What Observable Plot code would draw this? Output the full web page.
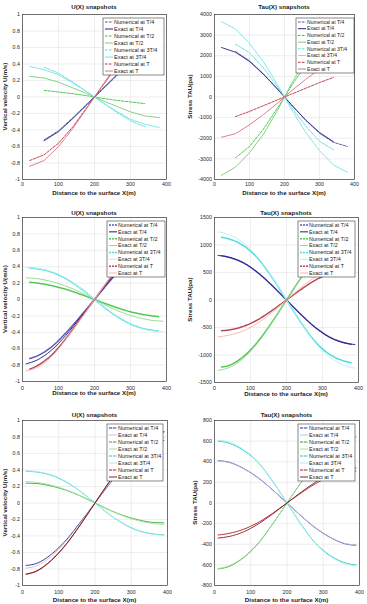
<!DOCTYPE html>
<html>
<head>
<meta charset="utf-8">
<script src="https://cdn.jsdelivr.net/npm/d3@7"></script>
<script src="https://cdn.jsdelivr.net/npm/@observablehq/plot@0.6"></script>
<style>
  body { margin: 0; background: #fff; }
  #fig { position: relative; width: 367px; height: 604px; overflow: hidden; font-family: "Liberation Sans", Arial, sans-serif; }
  #fig svg { position: absolute; overflow: visible; }
</style>
</head>
<body>
<div id="fig"></div>
<script>
// ---- shared axes ----
const xTicks = [0, 100, 200, 300, 400];
const uTicks = [-1, -0.8, -0.6, -0.4, -0.2, 0, 0.2, 0.4, 0.6, 0.8, 1];
const tauTicks1 = [-4000, -3000, -2000, -1000, 0, 1000, 2000, 3000, 4000];
const tauTicks2 = [-1500, -1000, -500, 0, 500, 1000, 1500];
const tauTicks3 = [-800, -600, -400, -200, 0, 200, 400, 600, 800];
const seriesNames = ["Numerical at T/4", "Exact at T/4", "Numerical at T/2", "Exact at T/2",
                     "Numerical at 3T/4", "Exact at 3T/4", "Numerical at T", "Exact at T"];

// ---- sampling positions (m) ----
const xCoarse = [20, 60, 100, 140, 180, 220, 260, 300, 340, 380];
const xInner = [60, 100, 140, 180, 220, 260, 300, 340];
const xInnerRight = [60, 100, 140, 180, 220, 260, 300, 340, 380];
const xLeftInner = [20, 60, 100, 140, 180, 220, 260, 300, 340];
const xFine = [10, 40, 80, 120, 160, 200, 240, 280, 320, 360, 390];
const xFineNum = [20, 40, 80, 120, 160, 200, 240, 280, 320, 360, 380];

// ---- run 1: velocity U (m/s) ----
const u1NumT4 = [-0.52, -0.41, -0.25, -0.08, 0.08, 0.25, 0.41, 0.52];
const u1ExT4 = [-0.53, -0.42, -0.26, -0.09, 0.09, 0.26, 0.42, 0.53];
const u1NumT2 = [0.08, 0.06, 0.04, 0.015, -0.015, -0.04, -0.06, -0.08];
const u1ExT2 = [0.25, 0.23, 0.18, 0.11, 0.04, -0.04, -0.11, -0.18, -0.23, -0.25];
const u1Num3T4 = [0.36, 0.29, 0.18, 0.06, -0.06, -0.18, -0.29, -0.36];
const u1Ex3T4 = [0.37, 0.33, 0.27, 0.17, 0.06, -0.06, -0.17, -0.27, -0.33, -0.37];
const u1NumT = [-0.77, -0.70, -0.56, -0.36, -0.12, 0.12, 0.36, 0.56, 0.70, 0.77];
const u1ExT = [-0.84, -0.77, -0.60, -0.38, -0.13, 0.13, 0.38, 0.60, 0.77, 0.84];

// ---- run 1: stress TAU (pa) ----
const t1NumT4 = [2200, 1760, 1120, 390, -390, -1120, -1760, -2200, -2400];
const t1ExT4 = [2400, 2170, 1720, 1100, 380, -380, -1100, -1720, -2170];
const t1NumT2 = [-2950, -2400, -1550, -540, 540, 1550, 2400, 2950];
const t1ExT2 = [-3800, -3400, -2700, -1800, -650, 650, 1800, 2700, 3400, 3800];
const t1Num3T4 = [2560, 2150, 1400, 500, -500, -1400, -2150, -2560];
const t1Ex3T4 = [3650, 3300, 2600, 1700, 600, -600, -1700, -2600, -3300, -3650];
const t1NumT = [-950, -700, -420, -140, 140, 420, 700, 950];
const t1ExT = [-1950, -1780, -1350, -850, -300, 300, 850, 1350, 1780, 1950];

// ---- run 2: velocity U (m/s) ----
const u2NumT4 = [-0.72, -0.69, -0.58, -0.41, -0.21, 0, 0.21, 0.41, 0.58, 0.69, 0.72];
const u2ExT4 = [-0.785, -0.74, -0.62, -0.44, -0.22, 0, 0.22, 0.44, 0.62, 0.74, 0.785];
const u2NumT2 = [0.21, 0.2, 0.17, 0.125, 0.065, 0, -0.065, -0.125, -0.17, -0.2, -0.21];
const u2ExT2 = [0.265, 0.255, 0.22, 0.165, 0.09, 0, -0.09, -0.165, -0.22, -0.255, -0.265];
const u2Num3T4 = [0.385, 0.375, 0.335, 0.255, 0.14, 0, -0.14, -0.255, -0.335, -0.375, -0.385];
const u2Ex3T4 = [0.39, 0.38, 0.34, 0.26, 0.14, 0, -0.14, -0.26, -0.34, -0.38, -0.39];
const u2NumT = [-0.85, -0.81, -0.68, -0.48, -0.24, 0, 0.24, 0.48, 0.68, 0.81, 0.85];
const u2ExT = [-0.87, -0.83, -0.70, -0.49, -0.25, 0, 0.25, 0.49, 0.70, 0.83, 0.87];

// ---- run 2: stress TAU (pa) ----
const t2NumT4 = [805, 775, 675, 498, 262, 0, -262, -498, -675, -775, -805];
const t2ExT4 = [810, 780, 680, 500, 265, 0, -265, -500, -680, -780, -810];
const t2NumT2 = [-1220, -1190, -1030, -760, -400, 0, 400, 760, 1030, 1190, 1220];
const t2ExT2 = [-1280, -1230, -1060, -780, -410, 0, 410, 780, 1060, 1230, 1280];
const t2Num3T4 = [1140, 1110, 990, 760, 410, 0, -410, -760, -990, -1110, -1140];
const t2Ex3T4 = [1240, 1190, 1040, 780, 420, 0, -420, -780, -1040, -1190, -1240];
const t2NumT = [-560, -545, -480, -360, -190, 0, 190, 360, 480, 545, 560];
const t2ExT = [-670, -640, -560, -420, -225, 0, 225, 420, 560, 640, 670];

// ---- run 3: velocity U (m/s) ----
const u3NumT4 = [-0.757, -0.73, -0.62, -0.45, -0.23, 0, 0.23, 0.45, 0.62, 0.73, 0.757];
const u3ExT4 = [-0.79, -0.76, -0.645, -0.465, -0.24, 0, 0.24, 0.465, 0.645, 0.76, 0.79];
const u3NumT2 = [0.24, 0.235, 0.205, 0.155, 0.085, 0, -0.085, -0.155, -0.205, -0.235, -0.24];
const u3ExT2 = [0.26, 0.25, 0.215, 0.16, 0.085, 0, -0.085, -0.16, -0.215, -0.25, -0.26];
const u3Num3T4 = [0.385, 0.375, 0.335, 0.255, 0.14, 0, -0.14, -0.255, -0.335, -0.375, -0.385];
const u3Ex3T4 = [0.39, 0.38, 0.34, 0.26, 0.14, 0, -0.14, -0.26, -0.34, -0.38, -0.39];
const u3NumT = [-0.86, -0.82, -0.69, -0.5, -0.26, 0, 0.26, 0.5, 0.69, 0.82, 0.86];
const u3ExT = [-0.865, -0.825, -0.695, -0.505, -0.262, 0, 0.262, 0.505, 0.695, 0.825, 0.865];

// ---- run 3: stress TAU (pa) ----
const t3NumT4 = [410, 395, 335, 245, 128, 0, -128, -245, -335, -395, -410];
const t3ExT4 = [408, 393, 333, 243, 127, 0, -127, -243, -333, -393, -408];
const t3NumT2 = [-640, -615, -530, -395, -205, 0, 205, 395, 530, 615, 640];
const t3ExT2 = [-635, -610, -525, -390, -203, 0, 203, 390, 525, 610, 635];
const t3Num3T4 = [600, 580, 510, 395, 212, 0, -212, -395, -510, -580, -600];
const t3Ex3T4 = [610, 590, 520, 400, 215, 0, -215, -400, -520, -590, -610];
const t3NumT = [-310, -295, -255, -190, -100, 0, 100, 190, 255, 295, 310];
const t3ExT = [-340, -325, -280, -205, -108, 0, 108, 205, 280, 325, 340];

// ---- line styles for each run ----
const dash = "2.6,1.3";
const dashTight = "3,0.8";
const style1 = [
  {stroke: "#5050b4", dash, w: 0.9}, {stroke: "#2a2a78", dash: null, w: 0.9},
  {stroke: "#38c438", dash, w: 0.9}, {stroke: "#78cc78", dash: null, w: 0.9},
  {stroke: "#5cdcdc", dash, w: 0.9}, {stroke: "#74e4e4", dash: null, w: 0.9},
  {stroke: "#c03040", dash, w: 0.9}, {stroke: "#d47484", dash: null, w: 0.9}
];
const style2 = [
  {stroke: "#6058b8", dash: "2,1", w: 1.5}, {stroke: "#1c1c80", dash: null, w: 0.9},
  {stroke: "#50c850", dash: "2,1", w: 1.5}, {stroke: "#8ed88e", dash: null, w: 0.9},
  {stroke: "#48dcdc", dash: "2,1", w: 1.5}, {stroke: "#b8f2f2", dash: null, w: 0.9},
  {stroke: "#b84858", dash: "2,1", w: 1.5}, {stroke: "#f2b4a8", dash: null, w: 0.9}
];
const style3 = [
  {stroke: "#26268c", dash: dashTight, w: 0.9}, {stroke: "#c4c4dc", dash: null, w: 0.9},
  {stroke: "#22aa22", dash: dashTight, w: 0.9}, {stroke: "#a8dca8", dash: null, w: 0.9},
  {stroke: "#22c8c8", dash: dashTight, w: 0.9}, {stroke: "#a8ecec", dash: null, w: 0.9},
  {stroke: "#b01818", dash: dashTight, w: 0.9}, {stroke: "#7a2434", dash: null, w: 0.9}
];

const fmt = d => String(d);

// cell = svg box on the page, frame = plotting area on the page (l, t, r, b)
const panels = [
  {cell: [0, 0, 183, 200], frame: [22, 14, 166, 179], title: "U(X) snapshots", ylabel: "Vertical velocity U(m/s)",
   y: [-1, 1], ticks: uTicks, curve: "linear", styles: style1, tickPad: 2.6, titleY: 7.3, xlabY: 192.7, ylabX: 5,
   legend: [103, 18, 61, 57, 5.5],
   series: [[xInner, u1NumT4], [xInner, u1ExT4], [xInner, u1NumT2], [xCoarse, u1ExT2],
            [xInner, u1Num3T4], [xCoarse, u1Ex3T4], [xCoarse, u1NumT], [xCoarse, u1ExT]]},
  {cell: [183, 0, 184, 200], frame: [214, 14, 354, 179], title: "Tau(X) snapshots", ylabel: "Stress TAU(pa)",
   y: [-4000, 4000], ticks: tauTicks1, curve: "linear", styles: style1, tickPad: 2.6, titleY: 7.3, xlabY: 192.7, ylabX: 189.7,
   legend: [296, 18, 58, 55, 5.1],
   series: [[xInnerRight, t1NumT4], [xLeftInner, t1ExT4], [xInner, t1NumT2], [xCoarse, t1ExT2],
            [xInner, t1Num3T4], [xCoarse, t1Ex3T4], [xInner, t1NumT], [xCoarse, t1ExT]]},
  {cell: [0, 200, 183, 200], frame: [22, 217, 166, 381], title: "U(X) snapshots", ylabel: "Vertical velocity U(m/s)",
   y: [-1, 1], ticks: uTicks, curve: "monotone-x", styles: style2, tickPad: 4.4, titleY: 212.7, xlabY: 393.3, ylabX: 5,
   legend: [107, 221, 58, 56, 5.4],
   series: [[xFineNum, u2NumT4], [xFine, u2ExT4], [xFineNum, u2NumT2], [xFine, u2ExT2],
            [xFineNum, u2Num3T4], [xFine, u2Ex3T4], [xFineNum, u2NumT], [xFine, u2ExT]]},
  {cell: [183, 200, 184, 200], frame: [214, 217, 358, 382], title: "Tau(X) snapshots", ylabel: "Stress TAU(pa)",
   y: [-1500, 1500], ticks: tauTicks2, curve: "monotone-x", styles: style2, tickPad: 3.6, titleY: 212.7, xlabY: 394, ylabX: 190.3,
   legend: [298, 221, 57, 56, 5.4],
   series: [[xFineNum, t2NumT4], [xFine, t2ExT4], [xFineNum, t2NumT2], [xFine, t2ExT2],
            [xFineNum, t2Num3T4], [xFine, t2Ex3T4], [xFineNum, t2NumT], [xFine, t2ExT]]},
  {cell: [0, 400, 183, 204], frame: [22, 420, 167, 585], title: "U(X) snapshots", ylabel: "Vertical velocity U(m/s)",
   y: [-1, 1], ticks: uTicks, curve: "monotone-x", styles: style3, tickPad: 4.6, titleY: 415.3, xlabY: 600, ylabX: 5,
   legend: [107, 424, 56, 57, 5.5],
   series: [[xFine, u3NumT4], [xFine, u3ExT4], [xFine, u3NumT2], [xFine, u3ExT2],
            [xFine, u3Num3T4], [xFine, u3Ex3T4], [xFine, u3NumT], [xFine, u3ExT]]},
  {cell: [183, 400, 184, 204], frame: [214, 420, 359, 585], title: "Tau(X) snapshots", ylabel: "Stress TAU(pa)",
   y: [-800, 800], ticks: tauTicks3, curve: "monotone-x", styles: style3, tickPad: 5.2, titleY: 415.3, xlabY: 600, ylabX: 194.7,
   legend: [298, 424, 57, 57, 5.5],
   series: [[xFine, t3NumT4], [xFine, t3ExT4], [xFine, t3NumT2], [xFine, t3ExT2],
            [xFine, t3Num3T4], [xFine, t3Ex3T4], [xFine, t3NumT], [xFine, t3ExT]]}
];

const fig = document.getElementById("fig");
const font = "Liberation Sans, Arial, Helvetica, sans-serif";

for (const p of panels) {
  const [cx, cy, cw, ch] = p.cell;
  const [fl, ft, fr, fb] = p.frame;
  const marks = [
    Plot.ruleX(xTicks, {stroke: "#e2e2e2", strokeWidth: 0.6}),
    Plot.ruleY(p.ticks, {stroke: "#e2e2e2", strokeWidth: 0.6})
  ];
  p.series.forEach(([xs, ys], i) => {
    const s = p.styles[i];
    const data = xs.map((x, j) => ({x, y: ys[j]}));
    marks.push(Plot.line(data, {
      x: "x", y: "y", stroke: s.stroke, strokeWidth: s.w, curve: p.curve,
      strokeDasharray: s.dash ?? undefined
    }));
  });
  marks.push(Plot.frame({stroke: "#3a3a3a", strokeWidth: 0.7}));

  const svg = Plot.plot({
    width: cw, height: ch,
    marginLeft: fl - cx, marginRight: cx + cw - fr,
    marginTop: ft - cy, marginBottom: cy + ch - fb,
    style: {fontFamily: font, fontSize: "5.3px", color: "#262626", background: "transparent", overflow: "visible"},
    x: {domain: [0, 400], ticks: xTicks, tickFormat: fmt, tickSize: 0, tickPadding: p.tickPad, label: null},
    y: {domain: p.y, ticks: p.ticks, tickFormat: fmt, tickSize: 0, tickPadding: 2.6, label: null},
    marks
  });
  svg.style.left = cx + "px";
  svg.style.top = cy + "px";
  fig.appendChild(svg);

  const g = d3.select(svg).append("g").attr("font-family", font).attr("fill", "#1a1a1a");
  const midX = (fl + fr) / 2 - cx;
  const midY = (ft + fb) / 2 - cy;
  g.append("text").attr("x", midX).attr("y", p.titleY - cy).attr("dy", "0.35em")
    .attr("text-anchor", "middle").attr("font-weight", "bold").attr("font-size", 6.2).text(p.title);
  g.append("text").attr("x", midX).attr("y", p.xlabY - cy).attr("dy", "0.35em")
    .attr("text-anchor", "middle").attr("font-weight", "bold").attr("font-size", 6.2)
    .text("Distance to the surface X(m)");
  g.append("text").attr("transform", `translate(${p.ylabX - cx},${midY}) rotate(-90)`).attr("dy", "0.35em")
    .attr("text-anchor", "middle").attr("font-weight", "bold").attr("font-size", 6.2).text(p.ylabel);

  // legend box
  const [lx, ly, lw, lh, lfs] = p.legend;
  const lg = g.append("g").attr("transform", `translate(${lx - cx},${ly - cy})`);
  lg.append("rect").attr("width", lw).attr("height", lh).attr("fill", "#fff")
    .attr("stroke", "#3a3a3a").attr("stroke-width", 0.6);
  const step = (lh - 8) / 7;
  seriesNames.forEach((name, i) => {
    const s = p.styles[i];
    const yy = 4 + i * step;
    lg.append("line").attr("x1", 2).attr("x2", 10).attr("y1", yy).attr("y2", yy)
      .attr("stroke", s.stroke).attr("stroke-width", Math.max(s.w, 1))
      .attr("stroke-dasharray", s.dash ?? null);
    lg.append("text").attr("x", 11).attr("y", yy).attr("dy", "0.35em")
      .attr("text-anchor", "start")
      .attr("font-size", lfs).attr("fill", "#1a1a1a").text(name);
  });
}
</script>
</body>
</html>
